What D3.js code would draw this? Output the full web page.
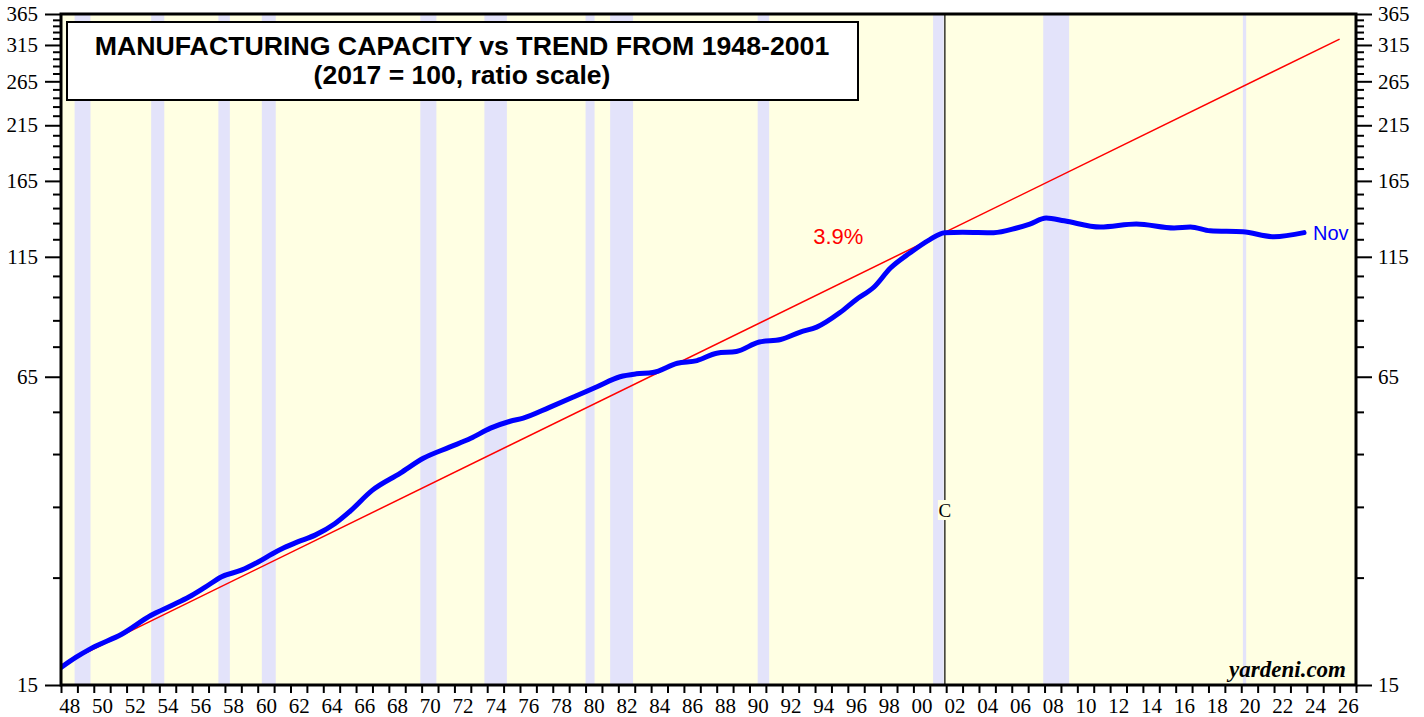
<!DOCTYPE html>
<html>
<head>
<meta charset="utf-8">
<script src="https://cdn.jsdelivr.net/npm/d3@7"></script>
<style>
  body { margin: 0; background: #fff; }
  svg { display: block; }
</style>
</head>
<body>
<div id="chart-area"></div>
<script>
// Manufacturing capacity (blue), decimal year vs index level
const capYears = [1948.0, 1948.9, 1949.9, 1951.7, 1953.5, 1954.75, 1955.8, 1956.8, 1957.8, 1959.0,
    1960.0, 1960.9, 1961.6, 1962.4, 1963.5, 1964.7, 1965.6, 1967.0, 1968.7, 1970.1,
    1971.7, 1973.0, 1974.2, 1975.4, 1976.2, 1977.8, 1979.3, 1980.7, 1982.1, 1983.1,
    1984.1, 1985.6, 1986.8, 1988.0, 1989.2, 1990.6, 1991.9, 1993.1, 1994.1, 1995.5,
    1996.5, 1997.6, 1998.6, 1999.8, 2001.0, 2001.9, 2003.0, 2004.9, 2006.3, 2007.1,
    2008.1, 2009.2, 2011.4, 2013.6, 2015.9, 2016.9, 2018.1, 2020.1, 2022.0, 2023.83];
const capValues = [16.3, 17.1, 17.9, 19.1, 20.9, 21.9, 22.8, 23.9, 25.1, 25.9,
    26.9, 28.0, 28.8, 29.6, 30.6, 32.3, 34.2, 37.9, 41.1, 44.1,
    46.5, 48.5, 50.9, 52.6, 53.4, 56.2, 59.1, 62.0, 65.0, 65.9,
    66.3, 69.3, 70.2, 72.7, 73.3, 76.7, 77.6, 80.4, 82.3, 88.1,
    93.8, 99.6, 109.0, 117.2, 124.8, 129.0, 129.3, 129.0, 131.9, 134.4,
    138.3, 136.5, 132.5, 134.4, 131.9, 132.5, 130.1, 129.5, 126.5, 129.0];

// 3.9% trend line (1948-2001 fit, extended)
const trendYears = [1948.0, 2026.0];
const trendValues = [16.5, 324];

// Recessions (start, end) in decimal years
const recessions = [[1948.83, 1949.8], [1953.5, 1954.3], [1957.6, 1958.3], [1960.25, 1961.1],
    [1969.92, 1970.9], [1973.83, 1975.2], [1980.0, 1980.55], [1981.5, 1982.9],
    [1990.5, 1991.2], [2001.2, 2001.85], [2007.92, 2009.5], [2020.1, 2020.3]];

const cycleYear = 2001.92;

const yMajor = [15, 65, 115, 165, 215, 265, 315, 365];
const yMinor = d3.range(25, 365, 10).filter(v => !yMajor.includes(v));
const xTickYears = d3.range(1948, 2028, 1);
const xLabelYears = d3.range(1948, 2027, 2);

const SANS = '"Liberation Sans", Arial, sans-serif';
const SERIF = '"Liberation Serif", "Times New Roman", serif';

const wChart = 1424;
const hChart = 717;
const plot = {left: 61, right: 1356, top: 14, bottom: 685};

const svg = d3.select('#chart-area')
    .append('svg')
    .attr('width', wChart)
    .attr('height', hChart);

const xScale = d3.scaleLinear()
    .domain([1948, 2027])
    .range([plot.left, plot.right]);

const yScale = d3.scaleLog()
    .domain([15, 365])
    .range([plot.bottom, plot.top]);

svg.append('clipPath').attr('id', 'plot-clip')
    .append('rect')
    .attr('x', plot.left).attr('y', plot.top)
    .attr('width', plot.right - plot.left)
    .attr('height', plot.bottom - plot.top);

// background
svg.append('rect')
    .attr('x', plot.left).attr('y', plot.top)
    .attr('width', plot.right - plot.left)
    .attr('height', plot.bottom - plot.top)
    .attr('fill', '#FFFFE3');

// recession bands
svg.append('g').selectAll('rect')
    .data(recessions)
    .enter().append('rect')
    .attr('x', d => xScale(d[0]))
    .attr('y', plot.top)
    .attr('width', d => Math.max(2, xScale(d[1]) - xScale(d[0])))
    .attr('height', plot.bottom - plot.top)
    .attr('fill', '#E3E3FA');

// cycle peak line
svg.append('line')
    .attr('x1', xScale(cycleYear)).attr('x2', xScale(cycleYear))
    .attr('y1', plot.top).attr('y2', plot.bottom)
    .attr('stroke', '#000')
    .attr('stroke-width', 1.2);

svg.append('rect')
    .attr('x', xScale(cycleYear) - 7)
    .attr('y', 500)
    .attr('width', 14)
    .attr('height', 20)
    .attr('fill', '#FFFFE3');

svg.append('text')
    .attr('x', xScale(cycleYear))
    .attr('y', 517)
    .attr('text-anchor', 'middle')
    .attr('font-family', SERIF)
    .attr('font-size', '19px')
    .text('C');

// title box
svg.append('rect')
    .attr('x', 67).attr('y', 22)
    .attr('width', 791).attr('height', 78)
    .attr('fill', '#fff')
    .attr('stroke', '#000')
    .attr('stroke-width', 2);

svg.append('text')
    .attr('x', 462).attr('y', 55)
    .attr('text-anchor', 'middle')
    .attr('font-family', SANS)
    .attr('font-weight', 'bold')
    .attr('font-size', '26.7px')
    .text('MANUFACTURING CAPACITY vs TREND FROM 1948-2001');

svg.append('text')
    .attr('x', 462).attr('y', 84)
    .attr('text-anchor', 'middle')
    .attr('font-family', SANS)
    .attr('font-weight', 'bold')
    .attr('font-size', '26.5px')
    .text('(2017 = 100, ratio scale)');

// lines
const lines = svg.append('g').attr('clip-path', 'url(#plot-clip)');

const trendData = trendYears.map((t, i) => ({t: t, v: trendValues[i]}));
lines.append('path')
    .datum(trendData)
    .attr('fill', 'none')
    .attr('stroke', '#FF0000')
    .attr('stroke-width', 1.5)
    .attr('d', d3.line().x(d => xScale(d.t)).y(d => yScale(d.v)));

const capData = capYears.map((t, i) => ({t: t, v: capValues[i]}));
lines.append('path')
    .datum(capData)
    .attr('fill', 'none')
    .attr('stroke', '#0000FF')
    .attr('stroke-width', 5)
    .attr('stroke-linejoin', 'round')
    .attr('stroke-linecap', 'round')
    .attr('d', d3.line().curve(d3.curveMonotoneX).x(d => xScale(d.t)).y(d => yScale(d.v)));

// annotations
svg.append('text')
    .attr('x', xScale(1996.95))
    .attr('y', yScale(122.5))
    .attr('text-anchor', 'end')
    .attr('font-family', SANS)
    .attr('font-size', '22px')
    .attr('fill', '#FF0000')
    .text('3.9%');

const last = capData[capData.length - 1];
svg.append('text')
    .attr('x', xScale(last.t) + 9)
    .attr('y', yScale(last.v) + 7)
    .attr('font-family', SANS)
    .attr('font-size', '20px')
    .attr('fill', '#0000FF')
    .text('Nov');

svg.append('text')
    .attr('x', 1346).attr('y', 677)
    .attr('text-anchor', 'end')
    .attr('font-family', SERIF)
    .attr('font-weight', 'bold')
    .attr('font-style', 'italic')
    .attr('font-size', '23px')
    .text('yardeni.com');

// axes
function styleAxis(g) {
    g.select('.domain').remove();
    g.selectAll('line').attr('stroke', '#000').attr('stroke-width', 2);
    g.selectAll('text')
        .attr('font-family', SERIF)
        .attr('font-size', '21px')
        .attr('fill', '#000');
}

svg.append('g')
    .attr('transform', `translate(${plot.left},0)`)
    .call(d3.axisLeft(yScale).tickValues(yMajor).tickSize(16).tickPadding(7).tickFormat(d3.format('d')))
    .call(styleAxis);
svg.append('g')
    .attr('transform', `translate(${plot.left},0)`)
    .call(d3.axisLeft(yScale).tickValues(yMinor).tickSize(8).tickFormat(''))
    .call(styleAxis);

svg.append('g')
    .attr('transform', `translate(${plot.right},0)`)
    .call(d3.axisRight(yScale).tickValues(yMajor).tickSize(16).tickPadding(6).tickFormat(d3.format('d')))
    .call(styleAxis);
svg.append('g')
    .attr('transform', `translate(${plot.right},0)`)
    .call(d3.axisRight(yScale).tickValues(yMinor).tickSize(8).tickFormat(''))
    .call(styleAxis);

svg.append('g')
    .attr('transform', `translate(0,${plot.bottom})`)
    .call(d3.axisBottom(xScale).tickValues(xTickYears).tickSize(8).tickFormat(''))
    .call(styleAxis);

svg.append('g')
    .attr('transform', `translate(0,${plot.bottom})`)
    .call(d3.axisBottom(xScale)
        .tickValues(xLabelYears.map(y => y + 0.5))
        .tickSize(0)
        .tickPadding(13)
        .tickFormat(d => String(Math.floor(d) % 100).padStart(2, '0')))
    .call(styleAxis);

// frame
svg.append('rect')
    .attr('x', plot.left).attr('y', plot.top)
    .attr('width', plot.right - plot.left)
    .attr('height', plot.bottom - plot.top)
    .attr('fill', 'none')
    .attr('stroke', '#000')
    .attr('stroke-width', 3);
</script>
</body>
</html>
